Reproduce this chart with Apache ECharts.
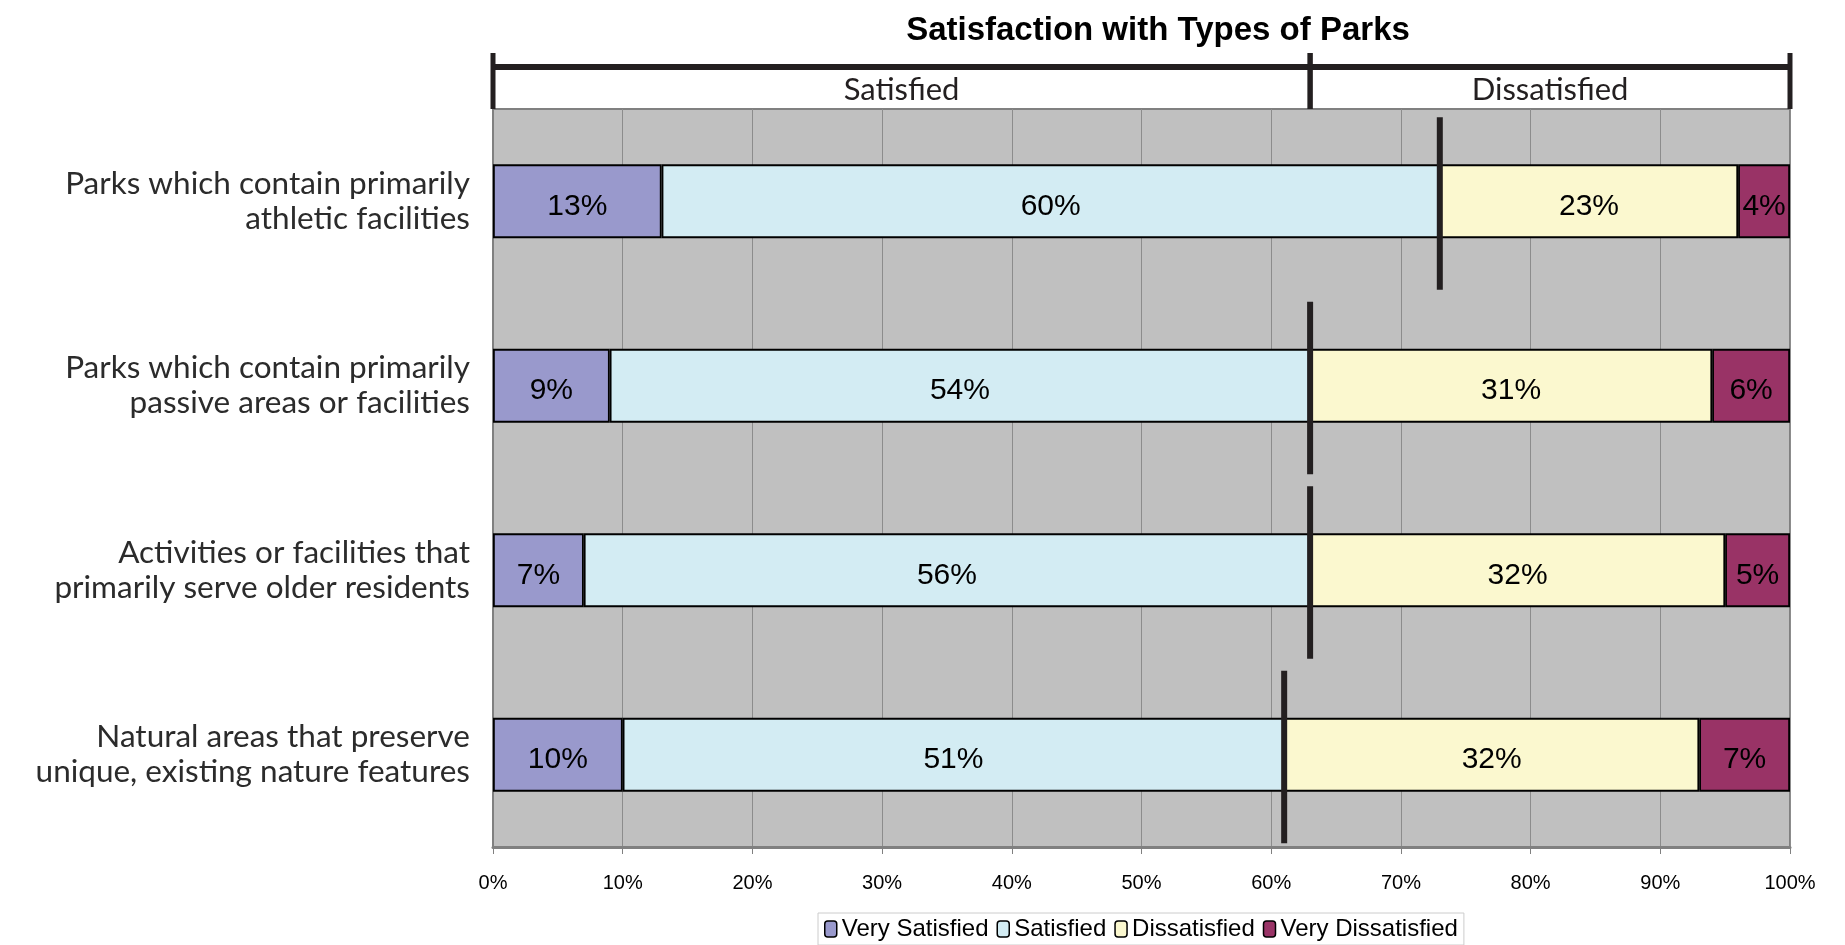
<!DOCTYPE html>
<html>
<head>
<meta charset="utf-8">
<script src="https://cdn.jsdelivr.net/npm/echarts@6/dist/echarts.min.js"></script>
<style>
html, body { margin: 0; padding: 0; background: #fff; }
#main { width: 1845px; height: 945px; }
</style>
</head>
<body>
<div id="main"></div>
<script>
// data
var categories = [
    'Parks which contain primarily\nathletic facilities',
    'Parks which contain primarily\npassive areas or facilities',
    'Activities or facilities that\nprimarily serve older residents',
    'Natural areas that preserve\nunique, existing nature features'
];
var verySatisfied = [13, 9, 7, 10];
var satisfied = [60, 54, 56, 51];
var dissatisfied = [23, 31, 32, 32];
var veryDissatisfied = [4, 6, 5, 7];
// bracket on top: [label, from %, to %]
var bracketGroups = [
    ['Satisfied', 0, 63],
    ['Dissatisfied', 63, 100]
];

var ARIAL = 'Liberation Sans, Arial, sans-serif';
var GOTHIC = 'Lato, Noto Sans, sans-serif';
var DARK = '#231F20';

var chart = echarts.init(document.getElementById('main'));

// thick line between satisfied / dissatisfied for each row
var dividerData = categories.map(function (c, i) {
    return [verySatisfied[i] + satisfied[i], i];
});

function renderDivider(params, api) {
    var pt = api.coord([api.value(0), api.value(1)]);
    var band = api.size([0, 1])[1];
    return {
        type: 'rect',
        shape: { x: pt[0] - 3, y: pt[1] - band * 0.455, width: 6, height: band * 0.935 },
        style: { fill: DARK }
    };
}

function renderBracket(params, api) {
    var a = api.coord([api.value(0), 1]);
    var b = api.coord([api.value(1), 0]);
    var top = a[1], bottom = b[1];
    var lineY = top + 14;
    return {
        type: 'group',
        children: [
            { type: 'rect', shape: { x: a[0], y: lineY - 3, width: b[0] - a[0], height: 6 }, style: { fill: DARK } },
            { type: 'rect', shape: { x: a[0] - 2.5, y: top, width: 5, height: bottom - top }, style: { fill: DARK } },
            { type: 'rect', shape: { x: b[0] - 2.5, y: top, width: 5, height: bottom - top }, style: { fill: DARK } },
            {
                type: 'text',
                style: {
                    text: bracketGroups[params.dataIndex][0],
                    x: (a[0] + b[0]) / 2, y: top + 37,
                    align: 'center', verticalAlign: 'middle',
                    font: '31px ' + GOTHIC, fill: DARK
                }
            }
        ]
    };
}

function barSeries(name, data, color) {
    return {
        name: name,
        type: 'bar',
        stack: 'total',
        xAxisIndex: 0,
        yAxisIndex: 0,
        barWidth: '40%',
        data: data,
        itemStyle: { color: color, borderColor: '#000', borderWidth: 1.8 },
        label: {
            show: true,
            position: 'inside',
            offset: [0, 5],
            formatter: '{c}%',
            fontFamily: ARIAL,
            fontSize: 30,
            color: '#000'
        }
    };
}

var option = {
    animation: false,
    backgroundColor: '#fff',
    title: {
        text: 'Satisfaction with Types of Parks',
        left: 1153,
        textAlign: 'center',
        top: 9,
        textStyle: { fontFamily: ARIAL, fontWeight: 'bold', fontSize: 33, color: '#000' }
    },
    legend: {
        left: 818,
        top: 913,
        itemWidth: 12,
        itemHeight: 16,
        itemGap: 8,
        padding: [4, 6],
        borderColor: '#ccc',
        borderWidth: 1,
        data: ['Very Satisfied', 'Satisfied', 'Dissatisfied', 'Very Dissatisfied'],
        itemStyle: { borderColor: '#000', borderWidth: 1.5 },
        textStyle: { fontFamily: ARIAL, fontSize: 24, color: '#000' }
    },
    grid: [
        {
            left: 493, right: 55, top: 109, bottom: 98,
            show: true,
            backgroundColor: '#C0C0C0',
            borderColor: '#808080',
            borderWidth: 2
        },
        { left: 493, right: 55, top: 53, height: 56 }
    ],
    xAxis: [
        {
            gridIndex: 0,
            type: 'value',
            min: 0, max: 100, interval: 10,
            axisLine: { show: true, lineStyle: { color: '#808080', width: 3 } },
            axisTick: { show: true, length: 7, lineStyle: { color: '#808080' } },
            axisLabel: { formatter: '{value}%', fontFamily: ARIAL, fontSize: 20, color: '#000', margin: 26 },
            splitLine: { show: true, lineStyle: { color: '#8c8c8c', width: 1 } }
        },
        { gridIndex: 1, type: 'value', min: 0, max: 100, show: false }
    ],
    yAxis: [
        {
            gridIndex: 0,
            type: 'category',
            inverse: true,
            data: categories,
            axisLine: { show: true, lineStyle: { color: '#808080', width: 2 } },
            axisTick: { show: false },
            axisLabel: { fontFamily: GOTHIC, fontSize: 31.5, lineHeight: 35, color: '#2b2b2b', margin: 23, align: 'right' }
        },
        { gridIndex: 1, type: 'value', min: 0, max: 1, show: false }
    ],
    series: [
        barSeries('Very Satisfied', verySatisfied, '#9999CC'),
        barSeries('Satisfied', satisfied, '#D3ECF3'),
        barSeries('Dissatisfied', dissatisfied, '#FBF8CF'),
        barSeries('Very Dissatisfied', veryDissatisfied, '#993366'),
        {
            type: 'custom',
            xAxisIndex: 0,
            yAxisIndex: 0,
            renderItem: renderDivider,
            data: dividerData,
            encode: { x: 0, y: 1 },
            z: 10,
            silent: true
        },
        {
            type: 'custom',
            xAxisIndex: 1,
            yAxisIndex: 1,
            renderItem: renderBracket,
            data: bracketGroups.map(function (g) { return [g[1], g[2]]; }),
            encode: { x: [0, 1] },
            silent: true
        }
    ]
};

chart.setOption(option);
</script>
</body>
</html>
